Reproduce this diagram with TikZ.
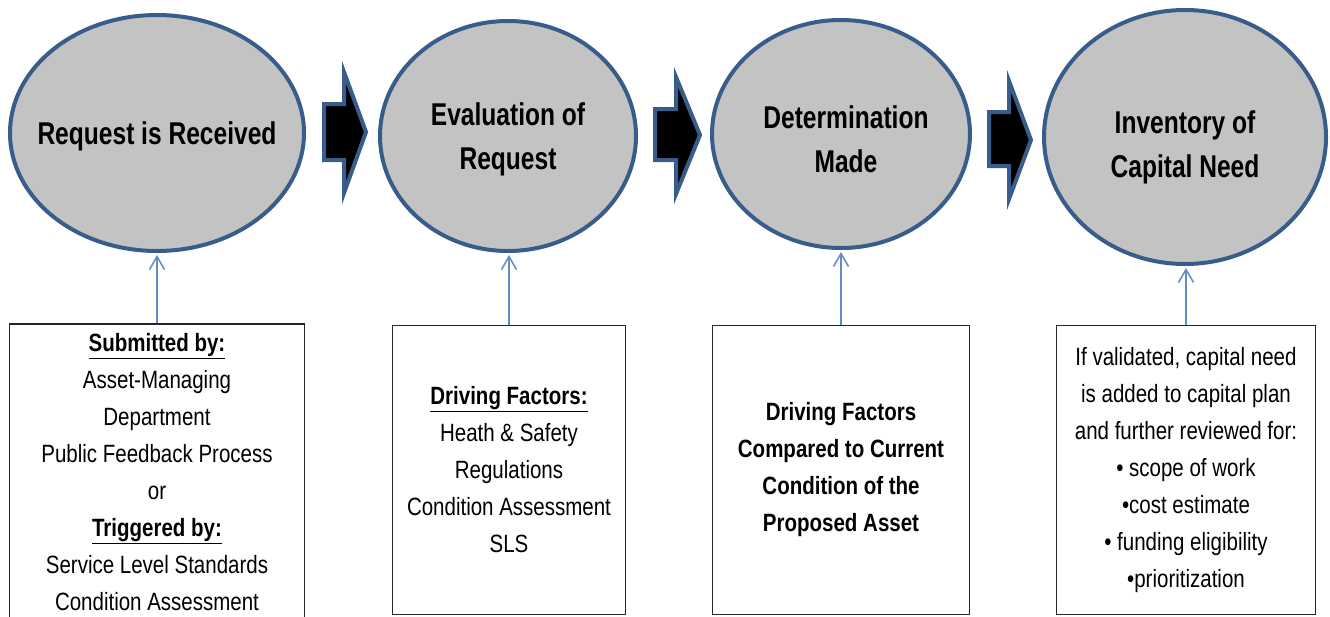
\documentclass[tikz,border=0pt]{standalone}
\usepackage{fontspec}
\setmainfont[FakeStretch=0.82]{Liberation Sans}
\newfontfamily\titlefont[FakeStretch=0.78]{Liberation Sans}
\usetikzlibrary{shapes.geometric,arrows.meta}
\definecolor{rimblue}{RGB}{56,93,138}
\definecolor{stagefill}{RGB}{195,195,195}
\definecolor{linkblue}{RGB}{96,140,200}
\newcommand{\ulbold}[1]{\underline{\textbf{#1}}}
\begin{document}
\begin{tikzpicture}[x=1pt,y=-1pt,
  stage/.style={ellipse, draw=rimblue, line width=4pt, fill=stagefill, inner sep=0pt},
  title/.style={font=\titlefont\fontsize{31.5}{44}\selectfont\bfseries, align=center, inner sep=0pt},
  infobox/.style={draw=black!85, line width=1.5pt, fill=white, align=center, inner sep=0pt,
                  font=\fontsize{25}{37}\selectfont},
  link/.style={draw=linkblue, line width=1.5pt,
               -{Straight Barb[length=13pt,width=15pt,line width=1.5pt]}, shorten >=2pt},
  blockarrow/.style={draw=rimblue, line width=4pt, fill=black, line join=miter}
]
\useasboundingbox (0,0) rectangle (1330,616);
\fill[white] (0,0) rectangle (1330,616);

% stages
\node[stage, minimum width=294pt, minimum height=236pt] (e1) at (157,133) {};
\node[stage, minimum width=256pt, minimum height=230pt] (e2) at (508,136) {};
\node[stage, minimum width=258pt, minimum height=228pt] (e3) at (841,134) {};
\node[stage, minimum width=282pt, minimum height=254pt] (e4) at (1185,137) {};

\node[title] (t1) at (157,136) {Request is Received};
\node[title] (t2) at (508,139) {Evaluation of\\Request};
\node[title] (t3) at (846,139) {Determination\\Made};
\node[title] (t4) at (1185,147) {Inventory of\\Capital Need};

% block arrows
\draw[blockarrow] (324,104) coordinate (a1) -- (344,104) -- (344,72) -- (366,132)
  -- (344,193) -- (344,160) -- (324,160) -- cycle;
\draw[blockarrow] (655,109) coordinate (a2) -- (676,109) -- (676,77) -- (700,135)
  -- (676,194) -- (676,160) -- (655,160) -- cycle;
\draw[blockarrow] (989,112) coordinate (a3) -- (1009,112) -- (1009,81) -- (1031,140)
  -- (1009,199) -- (1009,166) -- (989,166) -- cycle;

% info boxes
\node[infobox, minimum width=295pt, minimum height=296pt] (b1) at (157,472)
  {\ulbold{Submitted by:}\\Asset-Managing\\Department\\Public Feedback Process\\or\\
   \ulbold{Triggered by:}\\Service Level Standards\\Condition Assessment};
\node[infobox, minimum width=233pt, minimum height=289pt] (b2) at (509,470)
  {\ulbold{Driving Factors:}\\Heath \& Safety\\Regulations\\Condition Assessment\\SLS};
\node[infobox, minimum width=257pt, minimum height=289pt, font=\fontsize{25}{37}\selectfont\bfseries] (b3) at (841,470)
  {Driving Factors\\Compared to Current\\Condition of the\\Proposed Asset};
\node[infobox, minimum width=259pt, minimum height=289pt] (b4) at (1186,470)
  {If validated, capital need\\is added to capital plan\\and further reviewed for:\\• scope of work\\•cost estimate\\• funding eligibility\\•prioritization};

% connectors
\draw[link] (b1.north) -- (e1.south);
\draw[link] (b2.north) -- (b2.north |- e2.south);
\draw[link] (b3.north) -- (b3.north |- e3.south);
\draw[link] (b4.north) -- (b4.north |- e4.south);
\end{tikzpicture}
\end{document}
